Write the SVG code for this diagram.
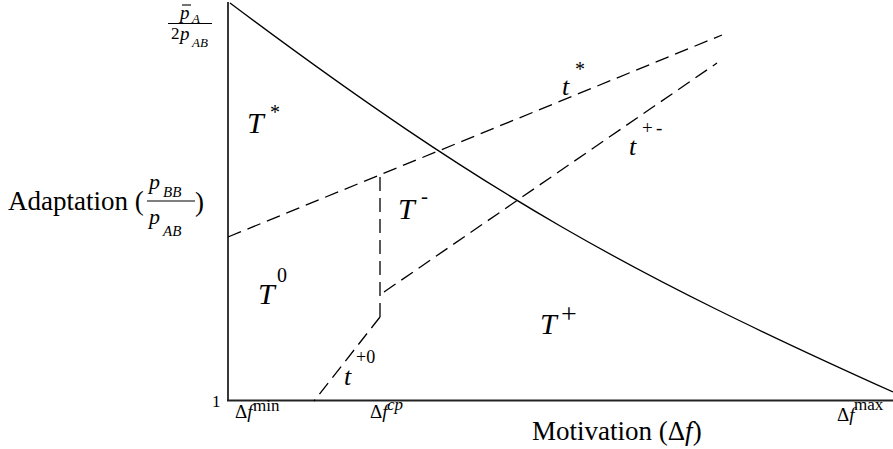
<svg xmlns="http://www.w3.org/2000/svg" width="893" height="449" viewBox="0 0 893 449">
<style>
text{font-family:"Liberation Serif","Times New Roman",serif;fill:#000}
.it{font-style:italic}
.ax{stroke:#222;stroke-width:1.8;fill:none}
.cv{stroke:#000;stroke-width:1.3;fill:none}
.ds{stroke:#000;stroke-width:1.3;fill:none;stroke-dasharray:14 7}
.bar{stroke:#000;stroke-width:1.1}
</style>
<rect width="893" height="449" fill="#fff"/>
<g id="axes">
<line class="ax" x1="228" y1="2" x2="228" y2="401"/>
<line class="ax" x1="227" y1="400.5" x2="893" y2="400.5"/>
</g>
<g id="curve">
<path class="cv" d="M230,3 C490,198 633,275 893,392"/>
</g>
<g id="connectors">
<line class="ds" x1="228" y1="237" x2="722" y2="35"/>
<line class="ds" x1="380" y1="177" x2="380" y2="317"/>
<line class="ds" x1="384" y1="292" x2="717" y2="63"/>
<line class="ds" x1="380" y1="317" x2="314" y2="401"/>
</g>
<g id="y-labels">
<text x="180" y="19" class="it" font-size="19">p</text>
<line class="bar" x1="182" y1="5" x2="191" y2="5"/>
<text x="192" y="23" class="it" font-size="13">A</text>
<line class="bar" x1="168" y1="23.5" x2="212" y2="23.5"/>
<text x="171" y="39" font-size="17">2</text>
<text x="180" y="40" class="it" font-size="19">p</text>
<text x="192" y="47" class="it" font-size="13">AB</text>
<text x="8" y="210" font-size="27">Adaptation (</text>
<text x="149" y="189" class="it" font-size="22">p</text>
<text x="163" y="197" class="it" font-size="15">BB</text>
<line class="bar" x1="147" y1="201" x2="195" y2="201"/>
<text x="149" y="224" class="it" font-size="22">p</text>
<text x="163" y="236" class="it" font-size="15">AB</text>
<text x="195" y="211" font-size="27">)</text>
<text x="212" y="407" font-size="17">1</text>
</g>
<g id="x-labels">
<text x="235" y="418" font-size="19">Δ<tspan class="it">f</tspan></text>
<text x="253" y="411" font-size="17">min</text>
<text x="370" y="418" font-size="19">Δ<tspan class="it">f</tspan></text>
<text x="387" y="410" class="it" font-size="17">cp</text>
<text x="837" y="421" font-size="19">Δ<tspan class="it">f</tspan></text>
<text x="854" y="410" font-size="17">max</text>
<text x="532" y="440" font-size="27">Motivation (Δ<tspan class="it">f</tspan>)</text>
</g>
<g id="regions">
<text x="247" y="133" class="it" font-size="30">T</text>
<text x="270" y="119" font-size="20">*</text>
<text x="258" y="304" class="it" font-size="30">T</text>
<text x="277" y="282" font-size="20">0</text>
<text x="398" y="219" class="it" font-size="30">T</text>
<text x="421" y="203" font-size="21">-</text>
<text x="540" y="334" class="it" font-size="30">T</text>
<text x="561" y="323" font-size="28">+</text>
</g>
<g id="line-labels">
<text x="562" y="95" class="it" font-size="26">t</text>
<text x="575" y="76" font-size="20">*</text>
<text x="629" y="155" class="it" font-size="26">t</text>
<text x="642" y="134" font-size="19">+</text>
<text x="656" y="134" font-size="19">-</text>
<text x="344" y="385" class="it" font-size="26">t</text>
<text x="356" y="363" font-size="18">+0</text>
</g>
</svg>
